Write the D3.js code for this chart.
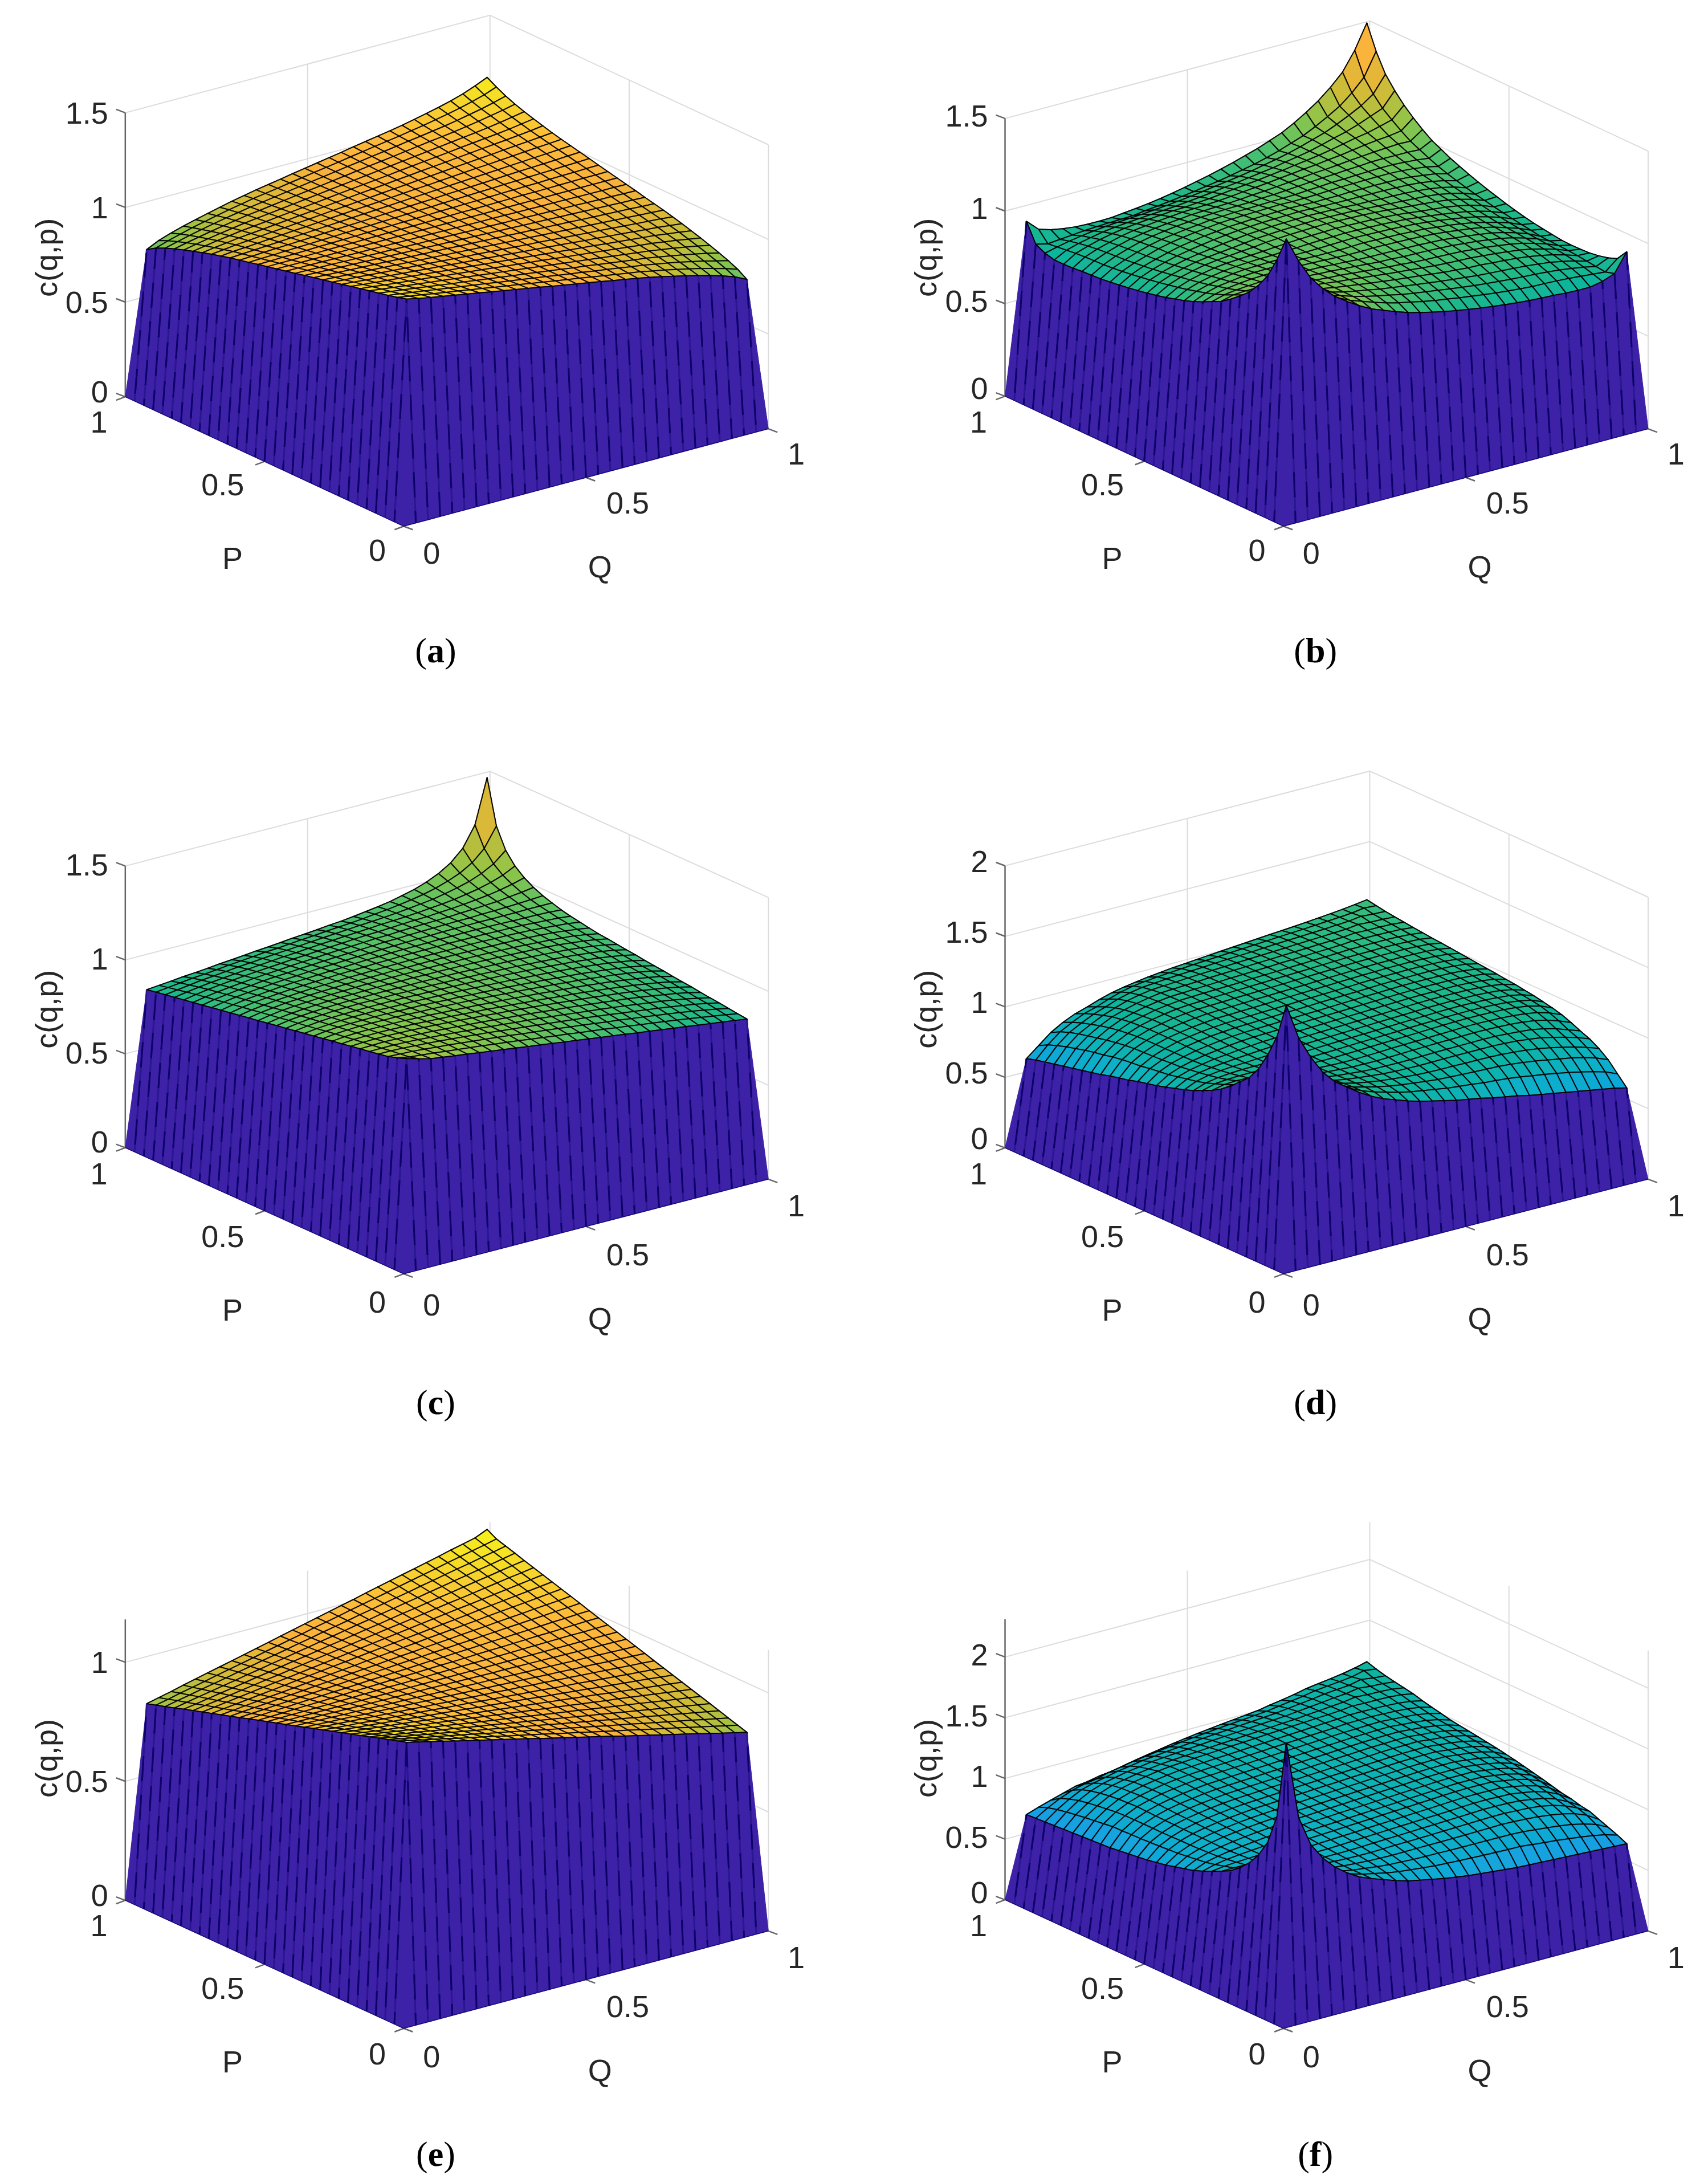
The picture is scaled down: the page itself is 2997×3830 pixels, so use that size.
<!DOCTYPE html>
<html>
<head>
<meta charset="utf-8">
<script src="https://d3js.org/d3.v7.min.js"></script>
<style>
  html, body { margin: 0; background: #fff; }
</style>
</head>
<body>
<div id="my_dataviz"></div>
<script>
// c(q,p), in thousandths. One row per p = j/30 (j = 1..29),
// listing q = i/30 for i = j..29. The surfaces are symmetric in q and p, and 0 on the rim.
const surfaceA = [
[1160,1146,1134,1123,1112,1101,1090,1078,1067,1056,1045,1034,1022,1011,1000,989,978,966,955,944,931,918,903,888,872,855,836,814,783],
[1135,1125,1114,1104,1094,1083,1073,1062,1052,1042,1031,1021,1010,1000,990,979,969,958,948,938,925,913,899,885,870,853,835,814],
[1115,1106,1096,1086,1077,1067,1058,1048,1038,1029,1019,1010,1000,990,981,971,962,952,942,933,921,910,897,883,869,853,836],
[1097,1088,1079,1070,1062,1053,1044,1035,1026,1018,1009,1000,991,982,974,965,956,947,938,930,919,908,896,883,870,855],
[1080,1072,1064,1056,1048,1040,1032,1024,1016,1008,1000,992,984,976,968,960,952,944,936,928,918,908,897,885,872],
[1065,1058,1050,1043,1036,1029,1022,1014,1007,1000,993,986,978,971,964,957,950,942,935,928,919,910,899,888],
[1051,1045,1038,1032,1026,1019,1013,1006,1000,994,987,981,974,968,962,955,949,942,936,930,921,913,903],
[1039,1034,1028,1022,1017,1011,1006,1000,994,989,983,978,972,966,961,955,950,944,938,933,925,918],
[1029,1024,1019,1014,1010,1005,1000,995,990,986,981,976,971,966,962,957,952,947,942,938,931],
[1020,1016,1012,1008,1004,1000,996,992,988,984,980,976,972,968,964,960,956,952,948,944],
[1013,1010,1006,1003,1000,997,994,990,987,984,981,978,974,971,968,965,962,958,955],
[1007,1005,1002,1000,998,995,993,990,988,986,983,981,978,976,974,971,969,966],
[1003,1002,1000,998,997,995,994,992,990,989,987,986,984,982,981,979,978],
[1001,1000,999,998,998,997,996,995,994,994,993,992,991,990,990,989],
[1000,1000,1000,1000,1000,1000,1000,1000,1000,1000,1000,1000,1000,1000,1000],
[1001,1002,1002,1003,1004,1005,1006,1006,1007,1008,1009,1010,1010,1011],
[1003,1005,1006,1008,1010,1011,1013,1014,1016,1018,1019,1021,1022],
[1007,1010,1012,1014,1017,1019,1022,1024,1026,1029,1031,1034],
[1013,1016,1019,1022,1026,1029,1032,1035,1038,1042,1045],
[1020,1024,1028,1032,1036,1040,1044,1048,1052,1056],
[1029,1034,1038,1043,1048,1053,1058,1062,1067],
[1039,1045,1050,1056,1062,1067,1073,1079],
[1051,1058,1064,1070,1077,1084,1093],
[1065,1072,1079,1087,1097,1107],
[1080,1089,1099,1110,1122],
[1100,1112,1124,1139],
[1125,1141,1159],
[1160,1184],
[1212]
];
const surfaceB = [
[1510,1375,1265,1190,1130,1085,1045,1010,985,960,938,920,905,890,878,867,857,848,840,833,827,823,820,815,812,812,825,850,950],
[1277,1211,1157,1118,1082,1050,1027,1004,984,967,953,939,927,917,906,897,888,880,873,867,862,860,857,853,847,841,835,890],
[1165,1131,1100,1072,1052,1031,1013,998,985,971,960,950,941,931,922,914,907,901,895,891,887,882,875,866,855,841,870],
[1105,1083,1066,1048,1031,1018,1007,994,985,975,966,958,949,941,934,927,922,918,913,908,901,893,880,866,847,858],
[1072,1058,1044,1032,1022,1013,1003,995,986,979,972,964,956,951,945,943,937,932,926,918,907,893,875,853,850],
[1048,1038,1031,1022,1016,1008,1001,993,987,981,974,968,964,961,958,952,946,938,930,918,901,882,857,847],
[1033,1026,1020,1016,1009,1003,997,991,987,981,977,975,972,969,962,956,948,938,926,908,887,860,846],
[1023,1018,1015,1010,1005,1000,995,993,988,987,985,982,978,971,965,956,946,932,913,891,862,848],
[1015,1014,1009,1006,1001,999,998,996,994,993,989,986,978,971,962,952,937,918,895,864,855],
[1013,1010,1007,1005,1004,1006,1004,1002,1000,997,993,986,978,969,958,943,922,901,873,862],
[1007,1007,1006,1008,1010,1008,1006,1004,1000,997,989,982,972,961,945,927,907,880,870],
[1008,1010,1012,1014,1012,1010,1008,1004,1000,993,985,975,964,951,934,914,888,880],
[1012,1014,1016,1014,1012,1010,1006,1002,994,987,977,968,956,941,922,897,892],
[1016,1018,1016,1014,1012,1008,1004,996,988,981,974,964,949,931,906,905],
[1020,1018,1016,1014,1010,1006,998,993,987,981,972,958,941,917,920],
[1016,1014,1012,1008,1004,999,995,991,987,979,966,950,927,935],
[1012,1010,1006,1005,1001,1000,997,993,986,975,960,939,952],
[1008,1007,1007,1006,1005,1003,1001,995,985,971,953,970],
[1007,1010,1009,1010,1009,1008,1003,994,985,967,990],
[1013,1014,1015,1016,1016,1013,1007,998,984,1010],
[1015,1018,1020,1022,1022,1018,1013,1004,1035],
[1023,1026,1031,1032,1031,1031,1027,1060],
[1033,1038,1044,1048,1052,1050,1095],
[1048,1058,1066,1072,1082,1135],
[1072,1083,1100,1118,1180],
[1105,1131,1157,1235],
[1165,1211,1300],
[1277,1400],
[1530]
];
const surfaceC = [
[1107,1089,1073,1064,1055,1047,1038,1029,1021,1012,1003,995,986,977,969,960,951,943,934,925,917,908,899,891,882,873,865,856,847],
[1076,1070,1064,1056,1049,1042,1035,1027,1020,1012,1003,995,987,980,971,963,955,946,938,929,921,912,903,894,884,874,864,853],
[1067,1062,1056,1051,1044,1037,1031,1024,1017,1009,1002,995,987,979,972,963,955,948,939,931,922,913,904,894,883,872,859],
[1058,1054,1049,1044,1038,1032,1027,1019,1013,1006,999,992,985,978,971,963,955,946,938,930,921,912,902,892,880,866],
[1051,1046,1042,1037,1031,1027,1020,1015,1008,1003,996,989,982,975,968,961,953,945,936,928,919,909,898,885,871],
[1043,1040,1035,1031,1026,1021,1016,1010,1005,999,993,986,980,973,966,959,951,944,935,926,915,905,892,877],
[1037,1034,1030,1026,1021,1017,1011,1007,1001,995,989,983,977,970,964,956,949,941,932,922,912,899,884],
[1030,1027,1024,1019,1015,1011,1006,1001,996,991,985,979,974,967,960,953,945,937,927,917,905,889],
[1025,1021,1018,1014,1011,1006,1002,998,993,988,982,977,971,965,958,951,942,933,923,911,895],
[1020,1017,1014,1011,1007,1003,999,995,990,985,980,974,969,962,955,948,939,929,918,902],
[1014,1011,1009,1005,1002,999,995,991,986,982,976,971,966,959,952,943,934,922,907],
[1010,1008,1005,1002,999,996,992,988,984,980,975,970,964,957,949,939,928,913],
[1006,1004,1002,1000,996,994,990,987,983,978,973,968,961,954,945,934,920],
[1002,1001,998,996,993,991,988,984,980,976,971,965,958,950,939,925],
[1000,999,996,994,992,990,987,983,979,975,970,963,955,945,931],
[997,996,995,993,991,988,985,983,979,974,967,960,950,938],
[994,994,993,992,989,987,984,980,976,971,965,955,943],
[994,993,992,990,989,987,984,980,976,969,961,951],
[993,993,992,990,989,987,984,979,974,969,960],
[992,992,992,990,989,987,983,980,976,969],
[993,993,992,991,989,988,987,985,980],
[993,994,993,994,994,995,995,995],
[994,997,998,1000,1003,1007,1011],
[1000,1004,1008,1016,1023,1033],
[1011,1019,1030,1044,1062],
[1031,1048,1070,1102],
[1073,1108,1163],
[1167,1270],
[1505]
];
const surfaceD = [
[1850,1600,1440,1310,1220,1160,1100,1050,1010,980,950,925,905,885,865,850,835,815,800,785,765,750,735,720,705,690,675,660,640],
[1477,1353,1262,1200,1146,1099,1058,1029,1005,981,963,949,935,921,912,904,892,886,878,867,852,840,825,808,790,770,745,710],
[1288,1225,1170,1127,1087,1057,1034,1013,996,983,972,962,953,949,944,940,937,934,927,917,905,890,875,860,840,815,780],
[1186,1142,1105,1076,1052,1032,1017,1004,994,986,979,975,973,973,971,971,970,967,960,952,940,925,905,885,860,830],
[1115,1088,1065,1044,1030,1018,1009,1001,996,994,992,993,995,996,996,996,996,992,987,977,966,946,925,900,868],
[1072,1052,1037,1026,1018,1010,1005,1004,1003,1004,1007,1010,1011,1012,1013,1014,1013,1008,1002,993,977,955,925,895],
[1044,1032,1024,1017,1012,1011,1011,1013,1016,1019,1022,1024,1026,1028,1031,1030,1028,1023,1016,1005,987,958,925],
[1028,1021,1017,1015,1015,1018,1021,1025,1028,1030,1033,1036,1039,1042,1043,1041,1038,1033,1024,1010,985,950],
[1019,1018,1018,1021,1024,1028,1031,1034,1037,1040,1044,1047,1050,1051,1051,1049,1046,1038,1026,1005,968],
[1018,1021,1024,1028,1031,1034,1037,1040,1044,1047,1050,1053,1054,1055,1053,1050,1044,1033,1016,982],
[1024,1028,1031,1034,1037,1040,1044,1047,1050,1053,1056,1058,1059,1057,1055,1049,1041,1025,995],
[1031,1034,1037,1040,1044,1047,1050,1053,1056,1060,1061,1062,1061,1059,1055,1047,1032,1005],
[1037,1040,1044,1047,1050,1053,1056,1060,1063,1065,1065,1065,1064,1060,1052,1039,1015],
[1044,1047,1050,1053,1056,1060,1063,1066,1068,1068,1069,1068,1064,1057,1046,1022],
[1050,1053,1056,1060,1063,1066,1069,1071,1073,1072,1072,1068,1063,1052,1030],
[1056,1060,1063,1066,1069,1072,1075,1076,1076,1075,1073,1068,1057,1037],
[1063,1066,1069,1072,1076,1078,1079,1079,1080,1077,1072,1063,1044],
[1069,1072,1076,1079,1081,1082,1084,1083,1081,1076,1068,1051],
[1076,1079,1082,1084,1086,1087,1087,1085,1081,1074,1058],
[1082,1085,1088,1090,1090,1091,1089,1087,1079,1065],
[1089,1091,1093,1094,1094,1094,1091,1085,1072],
[1095,1096,1097,1099,1098,1095,1090,1078],
[1101,1101,1102,1102,1100,1095,1085],
[1108,1106,1106,1104,1101,1092],
[1114,1110,1110,1107,1100],
[1121,1115,1113,1108],
[1127,1120,1117],
[1133,1128],
[1140]
];
const surfaceE = [
[1170,1158,1146,1134,1121,1109,1097,1085,1073,1061,1049,1036,1024,1012,1000,988,976,964,951,939,927,915,903,891,879,866,854,842,830],
[1146,1135,1124,1113,1101,1090,1079,1068,1056,1045,1034,1023,1011,1000,989,977,966,955,944,932,921,910,899,887,876,865,853,842],
[1125,1114,1104,1094,1083,1073,1062,1052,1042,1031,1021,1010,1000,990,979,969,958,948,938,927,917,906,896,886,875,865,854],
[1105,1095,1086,1076,1067,1057,1048,1038,1029,1019,1010,1000,990,981,971,962,952,943,933,924,914,905,895,886,876,867],
[1087,1078,1069,1061,1052,1043,1035,1026,1017,1009,1000,991,983,974,965,957,948,939,931,922,913,905,896,887,879],
[1070,1062,1055,1047,1039,1031,1023,1016,1008,1000,992,984,977,969,961,953,945,938,930,922,914,906,899,891],
[1055,1049,1042,1035,1028,1021,1014,1007,1000,993,986,979,972,965,958,951,945,938,931,924,917,910,903],
[1042,1036,1030,1024,1018,1012,1006,1000,994,988,982,976,970,964,958,951,945,939,933,927,921,915],
[1031,1026,1021,1016,1010,1005,1000,995,990,984,979,974,969,964,958,953,948,943,938,932,927],
[1022,1017,1013,1009,1004,1000,996,991,987,983,978,974,970,965,961,957,952,948,944,939],
[1014,1010,1007,1003,1000,997,993,990,986,983,979,976,972,969,965,962,958,955,951],
[1008,1005,1003,1000,997,995,992,990,987,984,982,979,977,974,971,969,966,964],
[1003,1002,1000,998,997,995,993,991,990,988,986,984,983,981,979,977,976],
[1001,1000,999,998,997,997,996,995,994,993,992,991,990,990,989,988],
[1000,1000,1000,1000,1000,1000,1000,1000,1000,1000,1000,1000,1000,1000,1000],
[1001,1002,1003,1003,1004,1005,1006,1007,1008,1009,1010,1010,1011,1012],
[1003,1005,1007,1009,1010,1012,1014,1016,1017,1019,1021,1023,1024],
[1008,1010,1013,1016,1018,1021,1023,1026,1029,1031,1034,1036],
[1014,1017,1021,1024,1028,1031,1035,1038,1042,1045,1049],
[1022,1026,1030,1035,1039,1043,1048,1052,1056,1061],
[1031,1036,1042,1047,1052,1057,1062,1068,1073],
[1042,1049,1055,1061,1067,1073,1079,1085],
[1055,1062,1069,1076,1083,1090,1097],
[1070,1078,1086,1094,1101,1109],
[1087,1095,1104,1113,1121],
[1105,1114,1124,1134],
[1125,1135,1146],
[1146,1158],
[1180]
];
const surfaceF = [
[2290,1650,1400,1260,1160,1085,1025,985,950,915,885,865,845,825,810,795,785,775,765,755,750,745,740,735,730,725,720,715,710],
[1416,1267,1175,1108,1052,1016,986,964,943,926,915,905,894,889,883,878,874,871,867,866,855,845,835,823,810,795,775,745],
[1179,1117,1065,1031,1003,984,971,959,949,944,939,936,936,933,932,932,932,931,930,925,915,905,893,878,855,825,775],
[1071,1040,1013,996,984,976,970,966,964,965,966,967,967,969,970,972,974,977,973,968,960,947,930,905,865,805],
[1018,1002,991,985,981,979,978,981,984,986,988,991,994,997,1000,1003,1006,1006,1001,996,984,965,933,890,835],
[995,989,986,986,987,990,994,998,1001,1005,1009,1012,1017,1020,1024,1029,1028,1026,1021,1005,987,955,905,848],
[989,990,991,995,1000,1005,1009,1014,1018,1022,1027,1031,1035,1041,1045,1047,1044,1040,1025,1008,978,932,868],
[994,999,1004,1009,1013,1019,1024,1028,1034,1039,1043,1049,1054,1059,1060,1059,1057,1040,1021,993,949,880],
[1006,1011,1016,1022,1027,1032,1038,1043,1048,1054,1059,1065,1070,1071,1072,1069,1053,1037,1011,969,900],
[1016,1022,1027,1032,1038,1043,1048,1054,1059,1065,1070,1075,1078,1077,1075,1061,1045,1021,984,920],
[1027,1032,1038,1043,1048,1054,1059,1065,1070,1075,1081,1083,1083,1083,1068,1054,1032,997,938],
[1038,1043,1048,1054,1059,1065,1070,1075,1081,1086,1088,1090,1089,1075,1062,1041,1009,955],
[1048,1054,1059,1065,1070,1075,1081,1086,1091,1094,1095,1095,1082,1070,1051,1022,972],
[1059,1065,1070,1075,1081,1086,1091,1097,1099,1101,1102,1089,1078,1061,1033,987],
[1070,1075,1081,1086,1091,1097,1102,1105,1107,1107,1095,1085,1069,1043,1001],
[1081,1086,1091,1097,1102,1107,1111,1112,1113,1102,1092,1076,1053,1013],
[1091,1097,1102,1107,1113,1116,1118,1120,1108,1099,1085,1062,1025],
[1102,1107,1113,1118,1121,1124,1125,1114,1106,1092,1070,1036],
[1113,1118,1123,1127,1129,1131,1121,1112,1099,1080,1047],
[1123,1129,1132,1135,1137,1127,1119,1108,1088,1058],
[1134,1137,1141,1143,1136,1130,1120,1103,1076],
[1145,1146,1148,1144,1140,1132,1118,1092],
[1155,1155,1153,1150,1144,1132,1110],
[1166,1162,1162,1159,1151,1132],
[1177,1170,1168,1162,1146],
[1188,1176,1172,1160],
[1198,1184,1175],
[1209,1195],
[1220]
];

const zTicksA = [0, 0.5, 1, 1.5];
const zTicksB = [0, 0.5, 1, 1.5];
const zTicksC = [0, 0.5, 1, 1.5];
const zTicksD = [0, 0.5, 1, 1.5, 2];
const zTicksE = [0, 0.5, 1];
const zTicksF = [0, 0.5, 1, 1.5, 2];
const baseTicks = [0, 0.5, 1];
const captions = ["a", "b", "c", "d", "e", "f"];

// parula
const colorStops = [0, .1, .17, .25, .3, .34, .42, .46, .52, .58, .64, .7, .76, .82, .87, .93, 1];
const colorValues = ["#3e20a8", "#4538d7", "#4852f4", "#2a80f0", "#1a9ce6", "#12a6dc", "#0fb0c8", "#0db2b8", "#0db4a0",
  "#1fb889", "#4cc06e", "#8fc548", "#d0bb38", "#fab23a", "#fdba3a", "#f5d72a", "#f9fb15"];

// everything below was measured on the 1227 wide preview, k brings it to full size
const k = 2997 / 1227;
const N = 30;
const layout = [
  {rows: surfaceA, ticks: zTicksA, col: 0, row: 0, L: [90, 285], F: [290, 378], R: [552, 308], unit: 136, top: 1.5, lab: 185, dy: 0},
  {rows: surfaceB, ticks: zTicksB, col: 632, row: 0, L: [722, 284.6], F: [922, 378], R: [1184, 308], unit: 133, top: 1.5, lab: 185, dy: -5},
  {rows: surfaceC, ticks: zTicksC, col: 0, row: 540, L: [90, 824.4], F: [290, 915], R: [552, 847], unit: 134.9, top: 1.5, lab: 725, dy: -2},
  {rows: surfaceD, ticks: zTicksD, col: 632, row: 540, L: [722, 824.5], F: [922, 915], R: [1184, 847], unit: 101.3, top: 2, lab: 725, dy: -8},
  {rows: surfaceE, ticks: zTicksE, col: 0, row: 1080, L: [90, 1365], F: [290, 1457], R: [552, 1387], unit: 171, top: 1.18, lab: 1263, dy: 0},
  {rows: surfaceF, ticks: zTicksF, col: 632, row: 1080, L: [722, 1364.6], F: [922, 1457], R: [1184, 1387], unit: 87.2, top: 2.31, lab: 1263, dy: -4}
];

var svg = d3.select("#my_dataviz")
  .append("svg")
  .attr("width", 2997)
  .attr("height", 3830)
  .style("display", "block")
  .style("background", "#fff");

svg.append("defs").append("filter")
  .attr("id", "soft")
  .append("feGaussianBlur")
  .attr("stdDeviation", 0.6);

const line = d3.line();

function unpack(rows) {
  const grid = d3.range(N + 1).map(() => d3.range(N + 1).map(() => 0));
  rows.forEach((row, a) => row.forEach((v, b) => {
    const j = a + 1, i = j + b;
    grid[i][j] = v / 1000;
    grid[j][i] = v / 1000;
  }));
  return grid;
}

function drawPanel(p, n) {
  const g = svg.append("g");
  const qx = d3.scaleLinear([0, 1], [0, (p.R[0] - p.F[0]) * k]);
  const qy = d3.scaleLinear([0, 1], [0, (p.R[1] - p.F[1]) * k]);
  const px = d3.scaleLinear([0, 1], [0, (p.L[0] - p.F[0]) * k]);
  const py = d3.scaleLinear([0, 1], [0, (p.L[1] - p.F[1]) * k]);
  const zy = d3.scaleLinear([0, 1], [0, -p.unit * k]);
  const project = (q, w, z) => [p.F[0] * k + qx(q) + px(w), p.F[1] * k + qy(q) + py(w) + zy(z)];

  const grid = unpack(p.rows);
  const node = (i, j) => project(i / N, j / N, grid[i][j]);
  const zMax = d3.max(grid, r => d3.max(r));
  const color = d3.scaleLinear(colorStops.map(s => s * zMax), colorValues);

  // back box
  const back = g.append("g").attr("fill", "none").attr("stroke", "#dcdcdc").attr("stroke-width", 2);
  p.ticks.forEach(t => {
    if (t === 0) return;
    back.append("path").attr("d", line([project(0, 1, t), project(1, 1, t), project(1, 0, t)]));
  });
  back.append("path").attr("d", line([project(1, 1, 0), project(1, 1, p.top)]));
  back.append("path").attr("d", line([project(1, 0, 0), project(1, 0, p.top)]));
  back.append("path").attr("d", line([project(0.5, 1, 0), project(0.5, 1, p.top)]));
  back.append("path").attr("d", line([project(1, 0.5, 0), project(1, 0.5, p.top)]));

  // z axis and ticks
  const ax = g.append("g").attr("fill", "none").attr("stroke", "#666").attr("stroke-width", 2.5);
  ax.append("path").attr("d", line([project(0, 1, 0), project(0, 1, p.top)]));
  p.ticks.forEach(t => {
    const a = project(0, 1, t);
    ax.append("path").attr("d", line([a, [a[0] - 16, a[1] - 6]]));
  });
  baseTicks.forEach(t => {
    const a = project(0, t, 0), b = project(t, 0, 0);
    ax.append("path").attr("d", line([a, [a[0] - 16, a[1] + 6]]));
    ax.append("path").attr("d", line([b, [b[0] + 16, b[1] + 6]]));
  });

  // cells, back corner first so the nearer ones paint over
  const cells = [];
  d3.range(N).forEach(i => d3.range(N).forEach(j => cells.push({i, j})));
  cells.sort((a, b) => (b.i + b.j) - (a.i + a.j));
  const isWall = c => c.i === 0 || c.j === 0;

  const surf = g.append("g").attr("filter", "url(#soft)");

  surf.selectAll("path.cell")
    .data(cells)
    .join("path")
    .attr("class", "cell")
    .attr("d", c => {
      // the two side corners of the walls run straight down to the floor corner
      let pts = [[c.i, c.j], [c.i + 1, c.j], [c.i + 1, c.j + 1], [c.i, c.j + 1]];
      if (c.i === 0 && c.j === N - 1) pts = pts.filter(d => !(d[0] === 1 && d[1] === N));
      if (c.j === 0 && c.i === N - 1) pts = pts.filter(d => !(d[0] === N && d[1] === 1));
      return line(pts.map(d => node(d[0], d[1]))) + "Z";
    })
    .attr("fill", c => color(grid[c.i][c.j]))
    .attr("stroke", c => isWall(c) ? color(0) : "#000")
    .attr("stroke-opacity", c => isWall(c) ? 1 : 0.9)
    .attr("stroke-width", c => isWall(c) ? 1 : 2)
    .attr("stroke-linejoin", "round");

  // wall lines, these come out broken in the reference: a faint line with darker dashes on it
  const wall = surf.append("g").attr("fill", "none").attr("stroke-width", 3);
  d3.range(1, N).forEach(t => {
    [[node(t, 0), node(t, 1)], [node(0, t), node(1, t)]].forEach(seg => {
      wall.append("path").attr("d", line(seg)).attr("stroke", "#2c1590");
      wall.append("path").attr("d", line(seg)).attr("stroke", "#0a0468")
        .attr("stroke-dasharray", "44 24").attr("stroke-dashoffset", t * 23);
    });
  });
  surf.append("path")
    .attr("fill", "none")
    .attr("stroke", "#000")
    .attr("stroke-width", 1.8)
    .attr("d", line(d3.range(N - 1, 0, -1).map(t => node(1, t)).concat(d3.range(1, N).map(t => node(t, 1)))));
  surf.append("path")
    .attr("fill", "none")
    .attr("stroke", "#14087a")
    .attr("stroke-width", 1.5)
    .attr("d", line([project(0, 1, 0), project(0, 0, 0), project(1, 0, 0)]));

  // text
  const tx = g.append("g")
    .attr("font-family", "'Liberation Sans', Arial, sans-serif")
    .attr("font-size", 54)
    .attr("fill", "#262626")
    .attr("text-anchor", "middle")
    .attr("dominant-baseline", "central");

  p.ticks.forEach(t => {
    const a = project(0, 1, t);
    tx.append("text")
      .attr("x", a[0] - 30)
      .attr("y", a[1] + p.dy - (t === 0 ? 9 : 0))
      .attr("text-anchor", "end")
      .text(t);
  });
  const label = (x, y, s) => tx.append("text").attr("x", (x + p.col) * k).attr("y", (y + p.row) * k).text(s);
  label(71, 303, 1); label(160, 348, 0.5); label(271, 395, 0);
  label(310, 397, 0); label(451, 361, 0.5); label(572, 326, 1);
  label(167, 401, "P"); label(431, 407, "Q");
  tx.append("text")
    .attr("transform", "translate(" + (33 + p.col) * k + "," + p.lab * k + ") rotate(-90)")
    .text("c(q,p)");

  const cap = svg.append("text")
    .attr("x", (313 + p.col) * k)
    .attr("y", (467 + p.row) * k)
    .attr("font-family", "'Liberation Serif', 'Times New Roman', serif")
    .attr("font-size", 62)
    .attr("fill", "#000")
    .attr("text-anchor", "middle")
    .attr("dominant-baseline", "central");
  cap.append("tspan").text("(");
  cap.append("tspan").attr("font-weight", "bold").text(captions[n]);
  cap.append("tspan").text(")");
}

layout.forEach(drawPanel);
</script>
</body>
</html>
